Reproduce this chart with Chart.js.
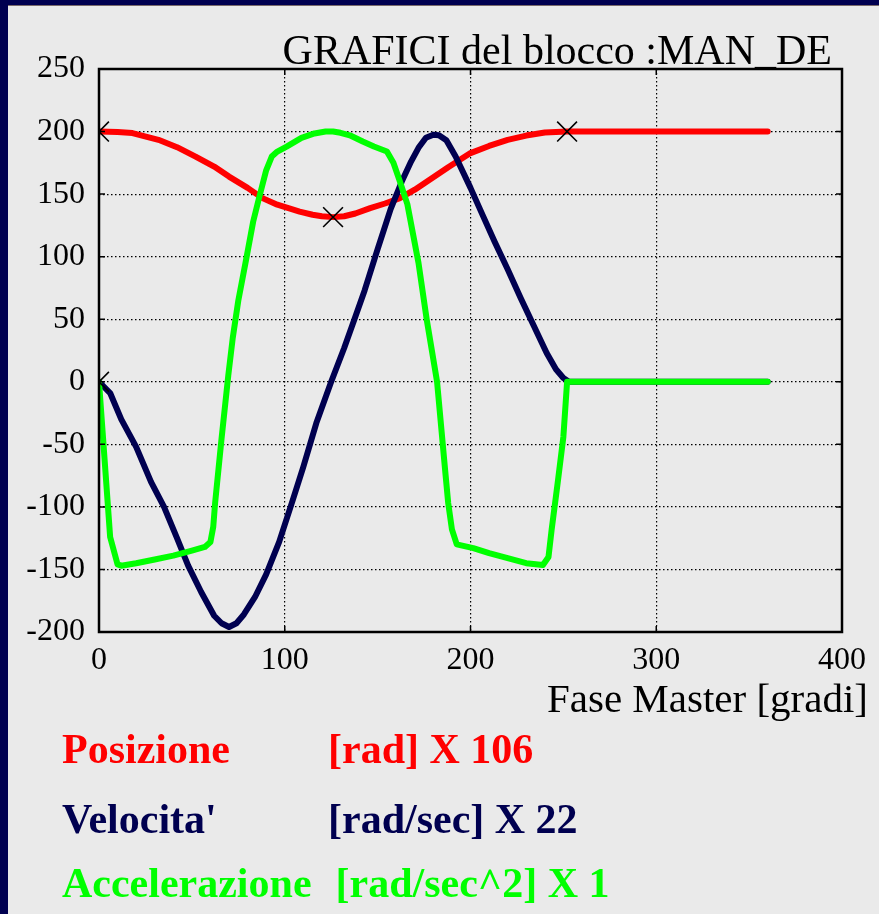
<!DOCTYPE html>
<html>
<head>
<meta charset="utf-8">
<script src="https://cdn.jsdelivr.net/npm/chart.js@4.4.1/dist/chart.umd.min.js"></script>
<style>
  html, body { margin: 0; padding: 0; background: #eaeaea; }
  #frame {
    position: absolute; left: 0; top: 0; width: 871px; height: 909px;
    border-left: 8px solid #000050; border-top: 5px solid #000050;
    box-shadow: inset 0 1px 0 #7a6a6a;
  }
  #wrap { position: absolute; left: 0; top: 0; width: 879px; height: 914px; }
  #legend {
    position: absolute; left: 0; top: 0;
    font-family: "Liberation Serif", "Times New Roman", serif;
    font-weight: bold; font-size: 42px; line-height: 1;
  }
  #legend .row { position: absolute; left: 62px; white-space: pre; }
  #legend .name { display: inline-block; min-width: 242px; padding-right: 24px; }
</style>
</head>
<body>
<div id="frame"></div>
<div id="wrap"><canvas id="chart" width="879" height="914"></canvas></div>
<div id="legend"></div>
<script>
// Fase master [gradi] and values
const posX = [0, 10, 18, 32, 42, 52, 62, 70, 80, 88, 96, 102, 108, 115, 120, 126, 132, 138, 146, 154, 162, 170, 178, 188, 200, 210, 220, 230, 240, 252, 300, 360];
const posY = [200, 199.6, 198.8, 193.4, 187.5, 180, 172, 164, 155, 146.8, 141.5, 138.8, 136, 133.5, 132.3, 131.6, 132.3, 134.5, 138.8, 142.5, 146.8, 153.5, 161.4, 171.5, 182.8, 188.5, 193.4, 196.8, 199.3, 200, 200, 200];

const velX = [0, 6, 12, 20, 28, 35, 42, 48, 55, 62, 66, 70, 74, 78, 84, 90, 97, 104, 110, 117, 125, 132, 138, 143, 150, 157, 163, 168, 172, 176, 180, 183, 187, 192, 200, 206, 213, 220, 227, 234, 241, 246, 250, 253, 300, 360];
const velY = [0, -9, -30, -52, -80, -100, -125, -147, -168, -187, -193, -196, -193, -186, -172, -154, -128, -96, -68, -33, 0, 27, 52, 73, 106, 138, 160, 176, 187, 195, 197.5, 197, 193, 180, 155, 135, 112, 90, 67, 45, 23, 10, 3, 0, 0, 0];

const accX = [0, 6, 10, 12, 20, 30, 40, 50, 57, 60, 61.5, 62.5, 66, 69.6, 72, 75, 79.5, 83, 86, 90, 93, 96, 101, 109, 116, 122, 126, 130, 135, 142, 148, 155, 158.5, 162, 166, 172, 176.4, 182, 186.3, 188, 190, 192.6, 201.5, 210, 220, 230, 239, 242, 243.7, 247, 250, 252, 300, 360];
const accY = [0, -124, -146, -147, -145, -142, -139, -135, -132, -128, -116, -97, -45, 5, 35, 65, 100, 128, 146, 169, 180, 184, 188, 195, 198.5, 200, 200, 199, 197, 192, 188, 184, 175, 160, 142, 95, 50, 0, -70, -97, -118, -130, -133, -137, -141, -145, -146.5, -140, -118, -80, -44, 0, 0, 0];

// black crosses on the curves
const markX = [0, 126, 252, 0];
const markY = [200, 131.6, 200, 0];

const seriesNames = ['Posizione', "Velocita'", 'Accelerazione'];
const seriesUnits = ['[rad] X 106', '[rad/sec] X 22', '[rad/sec^2] X 1'];
const seriesColors = ['#ff0000', '#000050', '#00ff00'];

const xTicks = [0, 100, 200, 300, 400];
const yTicks = [-200, -150, -100, -50, 0, 50, 100, 150, 200, 250];

const chartTitle = 'GRAFICI del blocco :MAN_DE';
const xTitle = 'Fase Master [gradi]';

const serif = '"Liberation Serif", "Times New Roman", serif';

function toPoints(xs, ys) {
  return xs.map((x, i) => ({ x: x, y: ys[i] }));
}

// legend rows below the plot
const legendEl = document.getElementById('legend');
const legendTops = [728, 798, 862];
seriesNames.forEach((name, i) => {
  const row = document.createElement('div');
  row.className = 'row';
  row.style.top = legendTops[i] + 'px';
  row.style.color = seriesColors[i];
  const n = document.createElement('span');
  n.className = 'name';
  n.textContent = name;
  const u = document.createElement('span');
  u.textContent = seriesUnits[i];
  row.appendChild(n);
  row.appendChild(u);
  legendEl.appendChild(row);
});

// box, inner ticks and the texts around the plot
const framePlugin = {
  id: 'framePlugin',
  afterDatasetsDraw(chart) {
    const ctx = chart.ctx;
    const a = chart.chartArea;
    const xs = chart.scales.x, ys = chart.scales.y;
    ctx.save();
    ctx.strokeStyle = '#000';
    ctx.lineWidth = 2.5;
    ctx.strokeRect(a.left, a.top, a.right - a.left, a.bottom - a.top);
    ctx.lineWidth = 1.5;
    ctx.beginPath();
    yTicks.forEach(v => {
      const y = ys.getPixelForValue(v);
      ctx.moveTo(a.left, y); ctx.lineTo(a.left + 6, y);
      ctx.moveTo(a.right, y); ctx.lineTo(a.right - 6, y);
    });
    xTicks.forEach(v => {
      const x = xs.getPixelForValue(v);
      ctx.moveTo(x, a.bottom); ctx.lineTo(x, a.bottom - 6);
      ctx.moveTo(x, a.top); ctx.lineTo(x, a.top + 6);
    });
    ctx.stroke();

    ctx.fillStyle = '#000';
    ctx.textAlign = 'right';
    ctx.textBaseline = 'alphabetic';
    ctx.font = '42px ' + serif;
    ctx.fillText(chartTitle, a.right - 10, a.top - 5);
    ctx.font = '41px ' + serif;
    ctx.fillText(xTitle, a.right + 26, a.bottom + 80);
    ctx.restore();
  }
};

const ctx = document.getElementById('chart');
new Chart(ctx, {
  type: 'line',
  data: {
    datasets: [
      {
        data: toPoints(markX, markY),
        showLine: false,
        pointStyle: 'crossRot',
        pointRadius: 14,
        pointBorderWidth: 1.6,
        pointBorderColor: '#000',
        clip: 0,
        order: 0
      },
      {
        data: toPoints(accX, accY),
        borderColor: seriesColors[2],
        borderWidth: 6,
        pointRadius: 0,
        order: 1
      },
      {
        data: toPoints(velX, velY),
        borderColor: seriesColors[1],
        borderWidth: 6,
        pointRadius: 0,
        order: 2
      },
      {
        data: toPoints(posX, posY),
        borderColor: seriesColors[0],
        borderWidth: 6,
        pointRadius: 0,
        order: 3
      }
    ]
  },
  options: {
    responsive: false,
    animation: false,
    events: [],
    layout: {
      padding: { left: 0, top: 69, right: 37, bottom: 0 }
    },
    elements: {
      line: { tension: 0, borderCapStyle: 'round', borderJoinStyle: 'round' }
    },
    plugins: {
      legend: { display: false },
      title: { display: false },
      tooltip: { enabled: false }
    },
    scales: {
      x: {
        type: 'linear',
        min: 0,
        max: 400,
        afterBuildTicks: scale => { scale.ticks = xTicks.map(v => ({ value: v })); },
        afterFit: scale => { scale.height = 282; },
        grid: { color: '#000', lineWidth: 1.2, drawTicks: false },
        border: { display: false, dash: [1.5, 2.5] },
        ticks: { color: '#000', padding: 9, maxRotation: 0, font: { family: serif, size: 32 } }
      },
      y: {
        min: -200,
        max: 250,
        afterBuildTicks: scale => { scale.ticks = yTicks.map(v => ({ value: v })); },
        afterFit: scale => { scale.width = 99; },
        grid: { color: '#000', lineWidth: 1.2, drawTicks: false },
        border: { display: false, dash: [1.5, 2.5] },
        ticks: { color: '#000', padding: 14, font: { family: serif, size: 32 } }
      }
    }
  },
  plugins: [framePlugin]
});
</script>
</body>
</html>
